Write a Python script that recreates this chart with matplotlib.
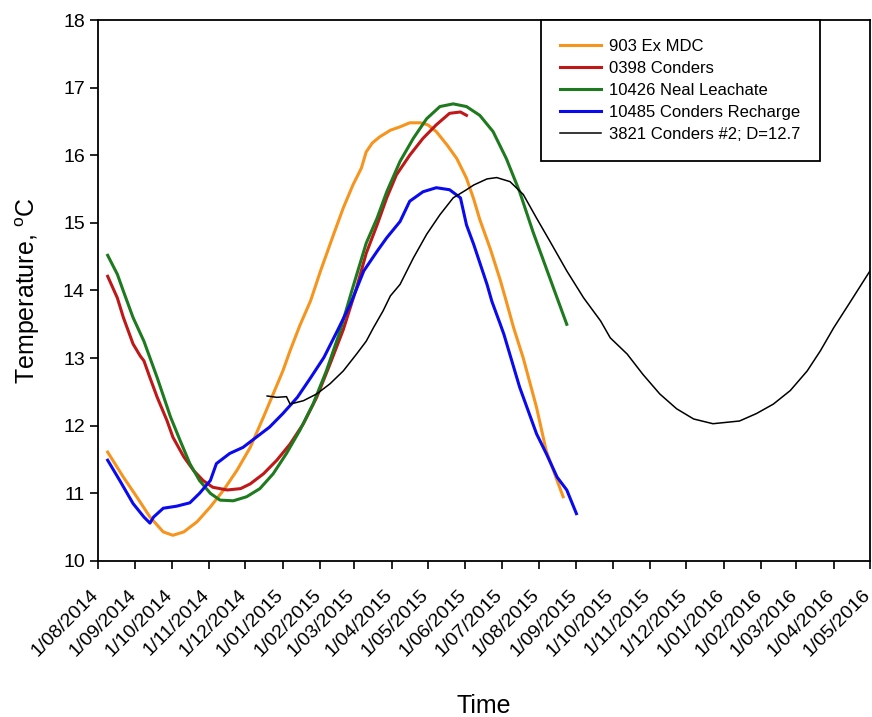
import matplotlib
matplotlib.use("Agg")
import matplotlib.pyplot as plt
import matplotlib.dates as mdates
import matplotlib.transforms as mtransforms
import pandas as pd

plt.rcParams['font.family'] = ['Liberation Sans', 'DejaVu Sans']

START = pd.Timestamp('2014-08-01')

# days since 1 Aug 2014, temperature in degC
# 903 Ex MDC
mdc_day = [8, 21, 32, 43, 54, 62, 71, 82, 93, 104, 115, 126, 137, 145, 153, 159,
           167, 176, 184, 195, 203, 211, 218, 222, 227, 233, 242, 250, 258, 267,
           273, 280, 289, 297, 305, 311, 316, 325, 333, 337, 344, 352, 363, 371,
           380, 385]
mdc_temp = [11.61, 11.24, 10.95, 10.65, 10.43, 10.38, 10.43, 10.58, 10.80, 11.05,
            11.34, 11.68, 12.13, 12.47, 12.81, 13.11, 13.48, 13.85, 14.28, 14.83,
            15.22, 15.56, 15.81, 16.05, 16.18, 16.27, 16.37, 16.42, 16.48, 16.48,
            16.45, 16.35, 16.15, 15.95, 15.66, 15.35, 15.05, 14.60, 14.15, 13.90,
            13.45, 13.00, 12.27, 11.63, 11.19, 10.95]

# 0398 Conders
cond_day = [8, 16, 21, 29, 35, 38, 43, 49, 57, 62, 71, 79, 87, 95, 107, 118, 126,
            137, 148, 159, 170, 181, 192, 203, 214, 222, 231, 239, 247, 258, 269,
            280, 291, 300, 305]
cond_temp = [14.21, 13.89, 13.60, 13.21, 13.03, 12.96, 12.71, 12.42, 12.08, 11.83,
             11.54, 11.34, 11.19, 11.09, 11.05, 11.07, 11.14, 11.29, 11.49, 11.73,
             12.03, 12.42, 12.91, 13.42, 14.04, 14.55, 14.97, 15.37, 15.71, 16.00,
             16.25, 16.45, 16.62, 16.64, 16.59]

# 10426 Neal Leachate
neal_day = [8, 16, 21, 29, 38, 49, 60, 68, 76, 84, 93, 101, 112, 123, 134, 145,
            156, 167, 178, 189, 200, 211, 222, 231, 239, 250, 261, 272, 283, 294,
            305, 316, 327, 338, 349, 360, 371, 380, 388]
neal_temp = [14.52, 14.24, 13.99, 13.60, 13.25, 12.71, 12.13, 11.78, 11.44, 11.19,
             11.00, 10.90, 10.89, 10.95, 11.07, 11.29, 11.59, 11.93, 12.32, 12.81,
             13.38, 14.05, 14.70, 15.07, 15.46, 15.91, 16.25, 16.54, 16.72, 16.76,
             16.72, 16.59, 16.35, 15.95, 15.46, 14.87, 14.33, 13.89, 13.50]

# 10485 Conders Recharge
rech_day = [8, 18, 29, 38, 43, 46, 54, 65, 76, 84, 93, 98, 109, 120, 131, 142,
            153, 165, 176, 187, 198, 209, 220, 231, 239, 250, 258, 269, 280, 291,
            300, 305, 311, 322, 326, 333, 336, 349, 363, 371, 380, 388, 396]
rech_temp = [11.49, 11.19, 10.85, 10.65, 10.56, 10.65, 10.78, 10.81, 10.86, 11.00,
             11.19, 11.44, 11.59, 11.68, 11.83, 11.98, 12.18, 12.42, 12.71, 13.01,
             13.40, 13.80, 14.29, 14.58, 14.78, 15.02, 15.32, 15.46, 15.52, 15.49,
             15.37, 14.97, 14.68, 14.09, 13.84, 13.50, 13.35, 12.57, 11.88, 11.59,
             11.24, 11.05, 10.70]

# 3821 Conders #2; D=12.7
c2_day = [140, 148, 156, 159, 170, 181, 192, 203, 214, 222, 228, 236, 242, 250,
          261, 272, 283, 294, 305, 311, 322, 330, 341, 352, 363, 374, 388, 402,
          416, 424, 438, 451, 465, 479, 493, 509, 531, 545, 559, 573, 587, 598,
          609, 623, 639]
c2_temp = [12.44, 12.42, 12.43, 12.32, 12.37, 12.47, 12.62, 12.81, 13.06, 13.25,
           13.45, 13.70, 13.92, 14.09, 14.48, 14.83, 15.12, 15.37, 15.49, 15.56,
           15.65, 15.67, 15.61, 15.42, 15.07, 14.73, 14.29, 13.89, 13.55, 13.30,
           13.06, 12.76, 12.47, 12.25, 12.10, 12.03, 12.07, 12.18, 12.32, 12.52,
           12.81, 13.11, 13.45, 13.84, 14.29]


def to_dates(days):
    return START + pd.to_timedelta(days, unit='D')


fig = plt.figure(figsize=(8.72, 7.17), dpi=100)
ax = fig.add_axes([0.1124, 0.2176, 0.8853, 0.7545])

ax.plot(to_dates(mdc_day), mdc_temp, color='#F7941D', lw=2.2, label='903 Ex MDC')
ax.plot(to_dates(cond_day), cond_temp, color='#C01818', lw=2.2, label='0398 Conders')
ax.plot(to_dates(neal_day), neal_temp, color='#1E7A1E', lw=2.2, label='10426 Neal Leachate')
ax.plot(to_dates(rech_day), rech_temp, color='#0A0AF0', lw=2.2, label='10485 Conders Recharge')
ax.plot(to_dates(c2_day), c2_temp, color='black', lw=1.1, label='3821 Conders #2; D=12.7')

ax.set_xlim(START, pd.Timestamp('2016-05-01'))
ax.set_ylim(10, 18)
ax.xaxis.set_major_locator(mdates.MonthLocator())
ax.xaxis.set_major_formatter(mdates.DateFormatter('%-d/%m/%Y'))
ax.tick_params(direction='out', length=6, width=1.2, labelsize=14)

# shift the rotated date labels down-left so they hang below the ticks
shift = mtransforms.ScaledTranslation(-0.08, -0.12, fig.dpi_scale_trans)
for lbl in ax.get_xticklabels():
    lbl.set_rotation(45)
    lbl.set_ha('right')
    lbl.set_rotation_mode('anchor')
    lbl.set_transform(lbl.get_transform() + shift)

for s in ax.spines.values():
    s.set_linewidth(1.3)

ax.set_xlabel('Time', fontsize=18)
ax.set_ylabel('Temperature, $^\\mathregular{o}$C', fontsize=18)
ax.xaxis.set_label_coords(0.5, -0.245)
ax.yaxis.set_label_coords(-0.072, 0.5)

leg = ax.legend(loc='upper right', bbox_to_anchor=(0.935, 1.0), borderaxespad=0,
                fancybox=False, fontsize=12, handlelength=2.45, labelspacing=0.42,
                borderpad=1.15, handletextpad=0.5)
leg.get_frame().set_edgecolor('black')
leg.get_frame().set_linewidth(1.3)
leg.get_frame().set_alpha(1)

fig.savefig('out.png', dpi=100)
